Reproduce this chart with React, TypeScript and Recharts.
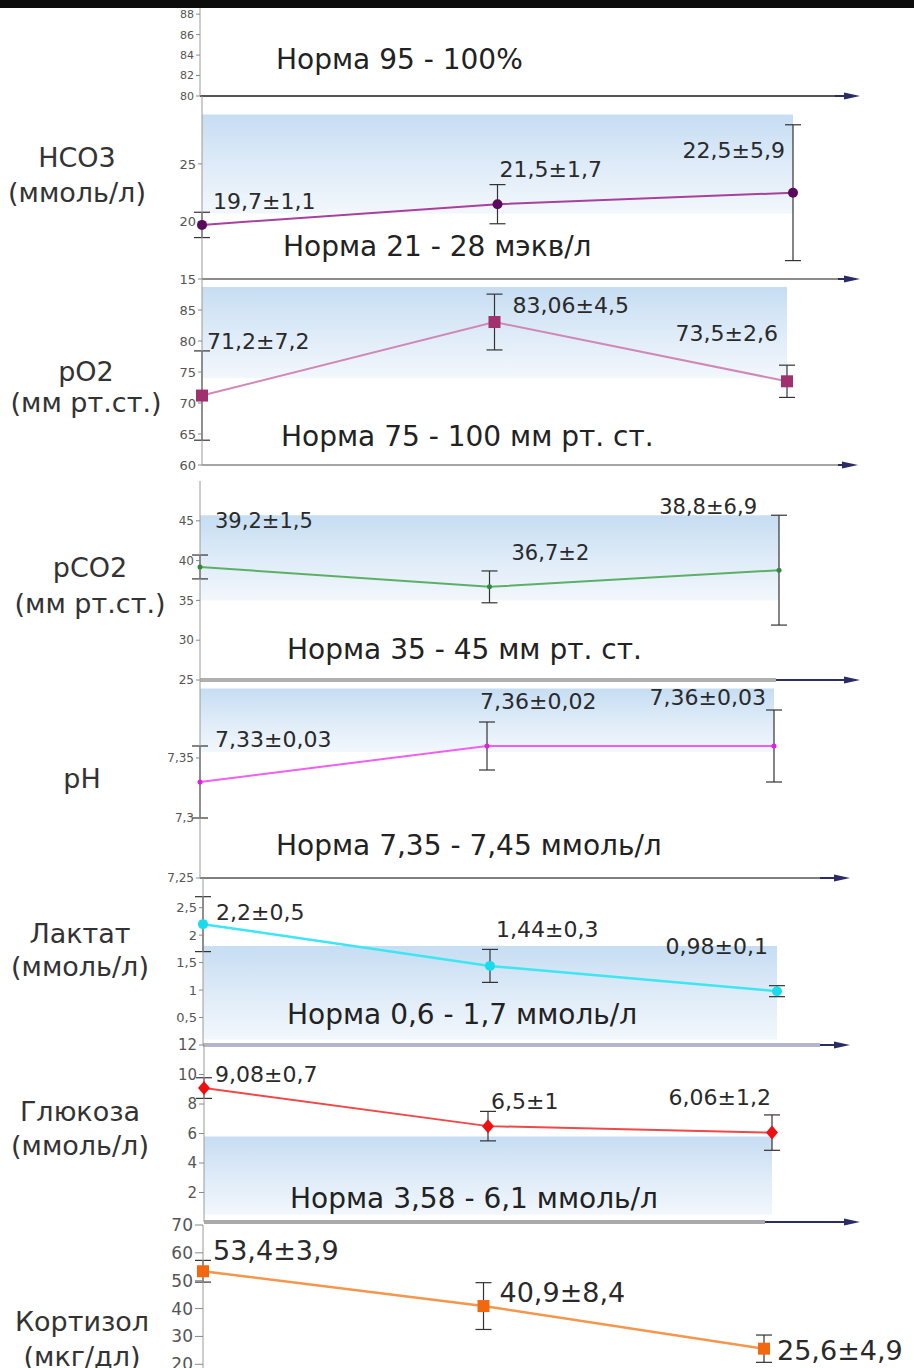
import React from 'react';
import { LineChart, Line, XAxis, YAxis, ErrorBar, ReferenceArea, ReferenceLine } from 'recharts';

// three observation stages along the x axis
const stages = [0, 1, 2];

// SpO2 (only the axis and the norm text are visible)
const spo2Ticks = [80, 82, 84, 86, 88];
const spo2Norm = [95, 100];

const hco3Mean = [19.7, 21.5, 22.5];
const hco3Sd = [1.1, 1.7, 5.9];
const hco3Norm = [21, 28];
const hco3Band = [20.7, 29.3];
const hco3Ticks = [15, 20, 25];

const po2Mean = [71.2, 83.06, 73.5];
const po2Sd = [7.2, 4.5, 2.6];
const po2Norm = [75, 100];
const po2Band = [74, 88.7];
const po2Ticks = [60, 65, 70, 75, 80, 85];

const pco2Mean = [39.2, 36.7, 38.8];
const pco2Sd = [1.5, 2, 6.9];
const pco2Norm = [35, 45];
const pco2Band = [35, 45.7];
const pco2Ticks = [25, 30, 35, 40, 45];

const phMean = [7.33, 7.36, 7.36];
const phSd = [0.03, 0.02, 0.03];
const phNorm = [7.35, 7.45];
const phBand = [7.355, 7.408];
const phTicks = [7.25, 7.3, 7.35];

const lactateMean = [2.2, 1.44, 0.98];
const lactateSd = [0.5, 0.3, 0.1];
const lactateNorm = [0.6, 1.7];
const lactateBand = [0.1, 1.8];
const lactateTicks = [0.5, 1, 1.5, 2, 2.5];

const glucoseMean = [9.08, 6.5, 6.06];
const glucoseSd = [0.7, 1, 1.2];
const glucoseNorm = [3.58, 6.1];
const glucoseBand = [0.5, 5.8];
const glucoseTicks = [2, 4, 6, 8, 10, 12];

const cortisolMean = [53.4, 40.9, 25.6];
const cortisolSd = [3.9, 8.4, 4.9];
const cortisolTicks = [20, 30, 40, 50, 60, 70];

const FONT = "'DejaVu Sans', Verdana, sans-serif";
const W = 914;

const fmt = (v: number) => String(v).replace('.', ',');

type Kind = 'circle' | 'square' | 'diamond' | 'small';

type Panel = {
  name: string[];
  mean: number[];
  sd: number[];
  norm: number[] | null;
  normUnit: string;
  band: number[] | null;
  domain: [number, number];
  ticks: number[];
  color: string;
  dotColor: string;
  kind: Kind;
  lineWidth: number;
  // layout
  top: number;
  bottom: number;
  x0: number;
  x2: number;
  xEnd: number;
  arrowFrom: number | null;
  axisColor: string;
  axisWidth: number;
  tickFont: number;
  tickSize: number;
  labelFont: number;
  labelPos: [number, number, 'start' | 'end'][];
  normPos: [number, number];
  namePos: [number, number[]];
};

const panels: Panel[] = [
  {
    name: [], mean: [], sd: [], norm: spo2Norm, normUnit: '%', band: null,
    domain: [80, 88.6], ticks: spo2Ticks, color: '#000', dotColor: '#000', kind: 'small', lineWidth: 1,
    top: 8, bottom: 96, x0: 200, x2: 793, xEnd: 860, arrowFrom: 835, axisColor: '#555', axisWidth: 2,
    tickFont: 11, tickSize: 4, labelFont: 22, labelPos: [], normPos: [276, 60], namePos: [0, []],
  },
  {
    name: ['HCO3', '(ммоль/л)'], mean: hco3Mean, sd: hco3Sd, norm: hco3Norm, normUnit: ' мэкв/л', band: hco3Band,
    domain: [15, 30.9], ticks: hco3Ticks, color: '#a8409e', dotColor: '#5a0a5a', kind: 'circle', lineWidth: 2,
    top: 96, bottom: 279, x0: 202, x2: 793, xEnd: 860, arrowFrom: 838, axisColor: '#666', axisWidth: 1.5,
    tickFont: 13, tickSize: 4, labelFont: 22,
    labelPos: [[11, -23, 'start'], [2, -35, 'start'], [-8, -42, 'end']],
    normPos: [283, 247], namePos: [77, [158, 193]],
  },
  {
    name: ['pO2', '(мм рт.ст.)'], mean: po2Mean, sd: po2Sd, norm: po2Norm, normUnit: ' мм рт. ст.', band: po2Band,
    domain: [60, 90], ticks: po2Ticks, color: '#d088b8', dotColor: '#a0306e', kind: 'square', lineWidth: 2,
    top: 279, bottom: 465, x0: 202, x2: 787, xEnd: 858, arrowFrom: 838, axisColor: '#888', axisWidth: 1.5,
    tickFont: 13, tickSize: 4, labelFont: 22,
    labelPos: [[5, -54, 'start'], [18, -17, 'start'], [-9, -48, 'end']],
    normPos: [281, 437], namePos: [86, [372, 403]],
  },
  {
    name: ['pCO2', '(мм рт.ст.)'], mean: pco2Mean, sd: pco2Sd, norm: pco2Norm, normUnit: ' мм рт. ст.', band: pco2Band,
    domain: [25, 50], ticks: pco2Ticks, color: '#5cb066', dotColor: '#2f8a3a', kind: 'small', lineWidth: 2,
    top: 481, bottom: 680, x0: 200, x2: 779, xEnd: 860, arrowFrom: 776, axisColor: '#b0b0b0', axisWidth: 4,
    tickFont: 12, tickSize: 4, labelFont: 21,
    labelPos: [[15, -46, 'start'], [22, -34, 'start'], [-22, -63, 'end']],
    normPos: [287, 650], namePos: [90, [568, 604]],
  },
  {
    name: ['pH'], mean: phMean, sd: phSd, norm: phNorm, normUnit: ' ммоль/л', band: phBand,
    domain: [7.25, 7.415], ticks: phTicks, color: '#f060f0', dotColor: '#e020e0', kind: 'small', lineWidth: 2,
    top: 680, bottom: 878, x0: 200, x2: 774, xEnd: 850, arrowFrom: 820, axisColor: '#555', axisWidth: 1.5,
    tickFont: 12, tickSize: 4, labelFont: 22,
    labelPos: [[15, -43, 'start'], [-7, -45, 'start'], [-8, -49, 'end']],
    normPos: [276, 846], namePos: [82, [779]],
  },
  {
    name: ['Лактат', '(ммоль/л)'], mean: lactateMean, sd: lactateSd, norm: lactateNorm, normUnit: ' ммоль/л', band: lactateBand,
    domain: [0, 3.04], ticks: lactateTicks, color: '#3ce6f2', dotColor: '#18dcee', kind: 'circle', lineWidth: 2.5,
    top: 878, bottom: 1045, x0: 203, x2: 777, xEnd: 850, arrowFrom: 820, axisColor: '#b4b4cc', axisWidth: 4,
    tickFont: 13, tickSize: 4, labelFont: 22,
    labelPos: [[13, -12, 'start'], [6, -36, 'start'], [-9, -45, 'end']],
    normPos: [287, 1015], namePos: [80, [934, 967]],
  },
  {
    name: ['Глюкоза', '(ммоль/л)'], mean: glucoseMean, sd: glucoseSd, norm: glucoseNorm, normUnit: ' ммоль/л', band: glucoseBand,
    domain: [0, 12], ticks: glucoseTicks, color: '#f04848', dotColor: '#ee1010', kind: 'diamond', lineWidth: 2,
    top: 1045, bottom: 1222, x0: 204, x2: 772, xEnd: 860, arrowFrom: 765, axisColor: '#aaaaaa', axisWidth: 4,
    tickFont: 15, tickSize: 5, labelFont: 22,
    labelPos: [[11, -14, 'start'], [3, -25, 'start'], [-1, -35, 'end']],
    normPos: [290, 1199], namePos: [80, [1112, 1146]],
  },
  {
    name: ['Кортизол', '(мкг/дл)'], mean: cortisolMean, sd: cortisolSd, norm: null, normUnit: '', band: null,
    domain: [0, 70], ticks: cortisolTicks, color: '#f5964a', dotColor: '#f26810', kind: 'square', lineWidth: 2.5,
    top: 1225, bottom: 1420, x0: 203, x2: 764, xEnd: 860, arrowFrom: null, axisColor: '#aaaaaa', axisWidth: 4,
    tickFont: 17, tickSize: 8, labelFont: 27,
    labelPos: [[10, -21, 'start'], [16, -14, 'start'], [13, 2, 'start']],
    normPos: [0, 0], namePos: [82, [1322, 1357]],
  },
];

const marker = (kind: Kind, fill: string) => (props: any) => {
  const { cx, cy, index } = props;
  const key = `dot-${index}`;
  if (cx == null || cy == null) return <g key={key} />;
  if (kind === 'square') return <rect key={key} x={cx - 6} y={cy - 6} width={12} height={12} fill={fill} />;
  if (kind === 'diamond')
    return <polygon key={key} points={`${cx},${cy - 7} ${cx + 6},${cy} ${cx},${cy + 7} ${cx - 6},${cy}`} fill={fill} />;
  if (kind === 'circle') return <circle key={key} cx={cx} cy={cy} r={5} fill={fill} />;
  return <circle key={key} cx={cx} cy={cy} r={2.5} fill={fill} />;
};

const arrowShape = (props: any) => {
  const { x1, y1, x2, y2 } = props;
  return (
    <g>
      <line x1={x1} y1={y1} x2={x2 - 8} y2={y2} stroke="#2b2b66" strokeWidth={2} />
      <polygon points={`${x2},${y2} ${x2 - 16},${y2 - 3.5} ${x2 - 16},${y2 + 3.5}`} fill="#2b2b66" />
    </g>
  );
};

function PanelChart({ p, idx }: { p: Panel; idx: number }) {
  const pad = 14;
  const height = p.bottom - p.top + pad * 2;
  const unit = (p.x2 - p.x0) / 2;
  const xMax = (p.xEnd - p.x0) / unit;
  const rows = stages.map((s, i) => ({ x: s, mean: p.mean[i], err: p.sd[i] }));
  const hasSeries = p.mean.length > 0;
  const arrowX = p.arrowFrom != null ? (p.arrowFrom - p.x0) / unit : xMax;
  const gid = `band-${idx}`;

  const renderLabel = (props: any) => {
    const { x, y, index } = props;
    const pos = p.labelPos[index];
    if (!pos || x == null) return <g key={`lbl-${index}`} />;
    return (
      <text
        key={`lbl-${index}`}
        x={x + pos[0]}
        y={y + pos[1]}
        textAnchor={pos[2]}
        dominantBaseline="central"
        fontSize={p.labelFont}
        fontFamily={FONT}
        fill="#2a2a2a"
      >
        {fmt(p.mean[index])}±{fmt(p.sd[index])}
      </text>
    );
  };

  return (
    <div style={{ position: 'absolute', left: 0, top: p.top - pad }}>
      <LineChart
        width={W}
        height={height}
        data={rows}
        margin={{ top: pad, bottom: pad - 2, left: p.x0 - 40, right: W - p.xEnd }}
        style={{ fontFamily: FONT }}
      >
        <defs>
          <linearGradient id={gid} x1="0" y1="0" x2="0" y2="1">
            <stop offset="0%" stopColor="#c6ddf2" />
            <stop offset="50%" stopColor="#deebf8" />
            <stop offset="100%" stopColor="#f2f7fc" />
          </linearGradient>
        </defs>
        <XAxis
          type="number"
          dataKey="x"
          domain={[0, xMax]}
          ticks={[1, 2]}
          tick={false}
          tickLine={{ stroke: '#777' }}
          tickSize={5}
          height={2}
          axisLine={false}
        />
        <YAxis
          type="number"
          width={40}
          domain={p.domain}
          ticks={p.ticks}
          interval={0}
          tickFormatter={fmt}
          tick={{ fontSize: p.tickFont, fill: '#555', fontFamily: FONT }}
          tickLine={{ stroke: '#888' }}
          tickSize={p.tickSize}
          axisLine={{ stroke: '#9a9a9a' }}
        />
        {!hasSeries && <ReferenceLine y={p.domain[0]} stroke="none" ifOverflow="extendDomain" />}
        {!hasSeries && <ReferenceLine y={p.domain[1]} stroke="none" ifOverflow="extendDomain" />}
        {p.band && (
          <ReferenceArea x1={0} x2={2} y1={p.band[0]} y2={p.band[1]} fill={`url(#${gid})`} fillOpacity={1} stroke="none" />
        )}
        <ReferenceLine
          segment={[
            { x: 0, y: p.domain[0] },
            { x: arrowX, y: p.domain[0] },
          ]}
          ifOverflow="visible"
          stroke={p.axisColor}
          strokeWidth={p.axisWidth}
        />
        {p.arrowFrom != null && (
          <ReferenceLine
            segment={[
              { x: arrowX, y: p.domain[0] },
              { x: xMax, y: p.domain[0] },
            ]}
            ifOverflow="visible"
            shape={arrowShape}
          />
        )}
        {hasSeries && (
          <Line
            type="linear"
            dataKey="mean"
            stroke={p.color}
            strokeWidth={p.lineWidth}
            dot={marker(p.kind, p.dotColor)}
            activeDot={false}
            label={renderLabel}
            isAnimationActive={false}
          >
            <ErrorBar dataKey="err" width={8} stroke="#333" strokeWidth={1.2} direction="y" />
          </Line>
        )}
      </LineChart>
    </div>
  );
}

export default function App() {
  return (
    <div
      style={{
        position: 'fixed',
        left: 0,
        top: 0,
        width: W,
        height: 1368,
        overflow: 'hidden',
        background: '#fff',
        fontFamily: FONT,
      }}
    >
      <div style={{ position: 'absolute', left: 0, top: 0, width: W, height: 8, background: '#0c0c0c' }} />
      {panels.map((p, i) => (
        <PanelChart key={`panel-${i}`} p={p} idx={i} />
      ))}
      {panels.map((p, i) =>
        p.norm ? (
          <div
            key={`norm-${i}`}
            style={{
              position: 'absolute',
              left: p.normPos[0],
              top: p.normPos[1] - 17,
              height: 34,
              lineHeight: '34px',
              fontSize: 28,
              color: '#222',
              whiteSpace: 'nowrap',
            }}
          >
            Норма {fmt(p.norm[0])} - {fmt(p.norm[1])}
            {p.normUnit}
          </div>
        ) : null,
      )}
      {panels.map((p, i) =>
        p.name.map((line, j) => (
          <div
            key={`name-${i}-${j}`}
            style={{
              position: 'absolute',
              left: p.namePos[0] - 100,
              width: 200,
              top: p.namePos[1][j] - 17,
              height: 34,
              lineHeight: '34px',
              textAlign: 'center',
              fontSize: 27,
              color: '#333',
              whiteSpace: 'nowrap',
            }}
          >
            {line}
          </div>
        )),
      )}
    </div>
  );
}
